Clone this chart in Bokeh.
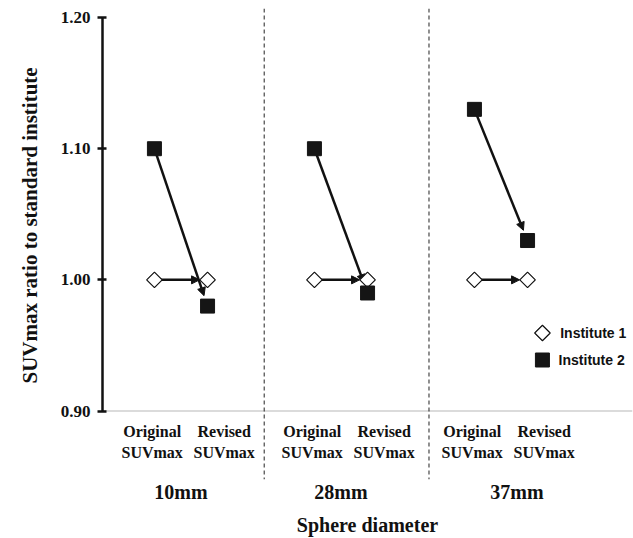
import numpy as np
from bokeh.plotting import figure
from bokeh.models import (ColumnDataSource, Range1d, FixedTicker, PrintfTickFormatter,
                          Span, Arrow, NormalHead, Title)
from bokeh.core.properties import value
from bokeh.embed import file_html
from bokeh.resources import INLINE

# ---------------- data ----------------
groups = ["10mm", "28mm", "37mm"]
stages = ["Original\nSUVmax", "Revised\nSUVmax"]
series_names = ["Institute 1", "Institute 2"]
inst1_original = [1.00, 1.00, 1.00]
inst1_revised = [1.00, 1.00, 1.00]
inst2_original = [1.10, 1.10, 1.13]
inst2_revised = [0.98, 0.99, 1.03]
y_ticks = [0.90, 1.00, 1.10, 1.20]

# ---------------- layout ----------------
STAGE_OFFSET = 0.166
PX_X = 160.0    # pixels per group unit
PX_Y = 1311.0   # pixels per ratio unit
gi = np.arange(len(groups), dtype=float)
x_orig = gi - STAGE_OFFSET
x_rev = gi + STAGE_OFFSET
SERIF = "Liberation Serif"
SANS = "Liberation Sans"

p = figure(width=633, height=538, output_backend="svg", toolbar_location=None,
           x_range=Range1d(-0.4906, 2.8219), y_range=Range1d(0.8478, 1.2069),
           min_border_left=102, min_border_right=1, min_border_top=8, min_border_bottom=57)
p.outline_line_color = None
p.xgrid.visible = False
p.ygrid.visible = False
p.background_fill_color = "white"

# y axis
ya = p.yaxis[0]
ya.bounds = (y_ticks[0], y_ticks[-1])
ya.ticker = FixedTicker(ticks=y_ticks)
ya.formatter = PrintfTickFormatter(format="%.2f")
ya.axis_line_width = 2.5
ya.axis_line_color = "#111111"
ya.major_tick_line_width = 2.5
ya.major_tick_line_color = "#111111"
ya.major_tick_in = 4
ya.major_tick_out = 5
ya.minor_tick_line_color = None
ya.major_label_standoff = 7
ya.major_label_text_font = SERIF
ya.major_label_text_font_style = "bold"
ya.major_label_text_font_size = "17px"
ya.major_label_text_color = "#111111"

# y title on the left side, placed along the axis by offset
p.add_layout(Title(text="SUVmax ratio to standard institute", align="left", offset=96,
                   vertical_align="middle", standoff=30,
                   text_font=SERIF, text_font_style="bold", text_font_size="21px",
                   text_color="#111111"), "left")

# x axis: group labels and title
xa = p.xaxis[0]
group_ticks = [0.0, 1.0, 2.1]
xa.ticker = FixedTicker(ticks=group_ticks)
xa.major_label_overrides = {t: g for t, g in zip(group_ticks, groups)}
xa.axis_line_color = None
xa.major_tick_line_color = None
xa.minor_tick_line_color = None
xa.major_tick_out = 0
xa.major_label_standoff = 1
xa.major_label_text_font = SERIF
xa.major_label_text_font_style = "bold"
xa.major_label_text_font_size = "20px"
xa.major_label_text_color = "#111111"
xa.axis_label = "Sphere diameter"
xa.axis_label_standoff = 8
xa.axis_label_text_font = SERIF
xa.axis_label_text_font_style = "bold"
xa.axis_label_text_font_size = "20px"
xa.axis_label_text_color = "#111111"

# baseline and separators
p.add_layout(Span(location=y_ticks[0], dimension="width", line_color="#cfcfcf",
                  line_width=1.5, level="underlay"))
for loc in [0.52, 1.55]:
    p.add_layout(Span(location=loc, dimension="height", line_color="#222222",
                      line_width=1, line_dash="4 3", level="underlay"))


def shrink(x0, y0, x1, y1, px):
    dxp = (x1 - x0) * PX_X
    dyp = (y1 - y0) * PX_Y
    L = np.hypot(dxp, dyp)
    return x1 - px * dxp / L / PX_X, y1 - px * dyp / L / PX_Y


# arrows
for ys, ye, sh in [(inst1_original, inst1_revised, 8.0), (inst2_original, inst2_revised, 11.0)]:
    xs_, ys_, xe_, ye_ = [], [], [], []
    for i in range(len(groups)):
        ex, ey = shrink(x_orig[i], ys[i], x_rev[i], ye[i], sh)
        xs_.append(x_orig[i]); ys_.append(ys[i]); xe_.append(ex); ye_.append(ey)
    src = ColumnDataSource(dict(x_start=xs_, y_start=ys_, x_end=xe_, y_end=ye_))
    p.add_layout(Arrow(source=src, x_start="x_start", y_start="y_start",
                       x_end="x_end", y_end="y_end", line_width=2.5, line_color="#111111",
                       end=NormalHead(size=8, fill_color="#111111", line_color="#111111"),
                       level="underlay"))

# markers
p.scatter(list(x_orig) + list(x_rev), inst1_original + inst1_revised, marker="square",
          angle=np.pi / 4, size=11, fill_color="white", line_color="#111111", line_width=1.2)
p.scatter(list(x_orig) + list(x_rev), inst2_original + inst2_revised, marker="square",
          size=14, fill_color="#151515", line_color="#151515", line_width=1)

# stage labels under baseline
lab_x = list(gi - 0.18) + list(gi + 0.27)
lab_t = [stages[0]] * len(groups) + [stages[1]] * len(groups)
p.text(lab_x, [0.8763] * len(lab_x), text=lab_t, text_align="center", text_baseline="middle",
       text_font=value(SERIF), text_font_style="bold", text_font_size="16px",
       text_color="#111111", text_line_height=1.2)

# legend
p.scatter([2.259], [0.9595], marker="square", angle=np.pi / 4, size=11,
          fill_color="white", line_color="#111111", line_width=1.2)
p.scatter([2.259], [0.9389], marker="square", size=14, fill_color="#151515",
          line_color="#151515")
p.text([2.37, 2.36], [0.9595, 0.9389], text=series_names, text_align="left",
       text_baseline="middle", text_font=value(SANS), text_font_style="bold",
       text_font_size="14px", text_color="#111111")

open("out.html", "w").write(file_html(p, INLINE))
